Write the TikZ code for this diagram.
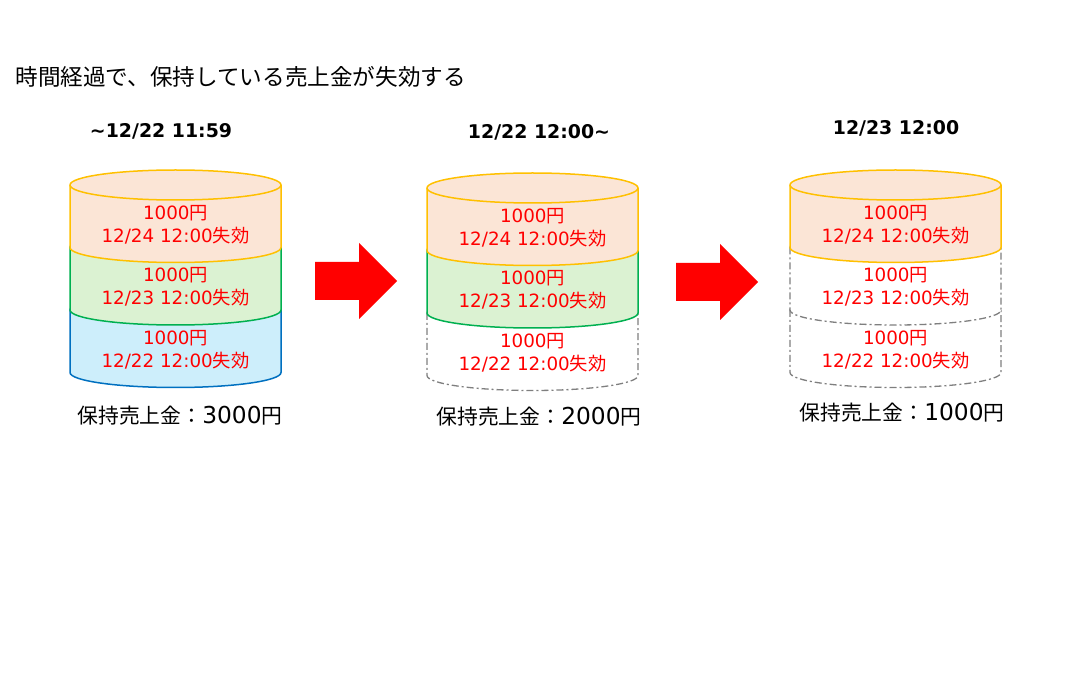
\documentclass[tikz,border=0pt]{standalone}
\usepackage{fontspec}
\setmainfont{DejaVu Sans}
\newfontfamily\jp{Noto Sans CJK JP}
\definecolor{orfill}{HTML}{FBE5D6}
\definecolor{ordraw}{HTML}{FFC000}
\definecolor{grfill}{HTML}{DBF2D2}
\definecolor{grdraw}{HTML}{00B050}
\definecolor{blfill}{HTML}{CDEEFB}
\definecolor{bldraw}{HTML}{0070C0}
\definecolor{lost}{HTML}{7F7F7F}
\def\can{-- ++(0,62.5) arc[start angle=180,end angle=0,x radius=105.5,y radius=15] -- ++(0,-62.5) arc[start angle=0,end angle=-180,x radius=105.5,y radius=15] -- cycle}
\def\lid{arc[start angle=180,end angle=0,x radius=105.5,y radius=15]}
\def\redarrow{-- ++(44,0) -- ++(0,-19) -- ++(38,38) -- ++(-38,38) -- ++(0,-19) -- ++(-44,0) -- cycle}
\def\yen{{\jp 円}}
\def\lapse{{\jp 失効}}
\def\held#1{{\jp\fontsize{20.8}{26}\selectfont 保持売上金：}#1{\jp\fontsize{20.8}{26}\selectfont 円}}
\tikzset{
  amount/.style={text=red, align=center, font=\fontsize{18.3}{23}\selectfont},
  when/.style={font=\bfseries\fontsize{18.9}{20}\selectfont},
  total/.style={font=\fontsize{23.3}{26}\selectfont},
  gone/.style={draw=lost, fill=white, line width=1.3, dash pattern=on 7 off 3 on 2 off 3},
}
\begin{document}
\begin{tikzpicture}[x=1pt,y=-1pt]
  \useasboundingbox (0,0) rectangle (1074,684);
  \node[anchor=west, font=\fontsize{22.6}{28}\selectfont\jp] (title) at (12,77) {時間経過で、保持している売上金が失効する};

  % before
  \filldraw[fill=blfill,draw=bldraw,line width=1.5] (70,310) \can;
  \filldraw[fill=grfill,draw=grdraw,line width=1.5] (70,247.5) \can;
  \filldraw[fill=orfill,draw=ordraw,line width=1.5] (70,185) \can;
  \draw[ordraw,line width=1.5] (70,185) \lid;
  \node[when] (d1) at (161,131) {\textasciitilde12/22 11:59};
  \node[amount] (a1) at (175.5,224.5) {1000\yen\\12/24 12:00\lapse};
  \node[amount] (b1) at (175.5,287) {1000\yen\\12/23 12:00\lapse};
  \node[amount] (c1) at (175.5,349.5) {1000\yen\\12/22 12:00\lapse};
  \node[total] (t1) at (180,416) {\held{3000}};

  \fill[red] (315,262) \redarrow;

  % after 12/22 12:00
  \draw[gone] (427,313) \can;
  \filldraw[fill=grfill,draw=grdraw,line width=1.5] (427,250.5) \can;
  \filldraw[fill=orfill,draw=ordraw,line width=1.5] (427,188) \can;
  \draw[ordraw,line width=1.5] (427,188) \lid;
  \node[when] (d2) at (539,132) {12/22 12:00\textasciitilde};
  \node[amount] (a2) at (532.5,227.5) {1000\yen\\12/24 12:00\lapse};
  \node[amount] (b2) at (532.5,290) {1000\yen\\12/23 12:00\lapse};
  \node[amount] (c2) at (532.5,352.5) {1000\yen\\12/22 12:00\lapse};
  \node[total] (t2) at (539,417) {\held{2000}};

  \fill[red] (676,263) \redarrow;

  % after 12/23 12:00
  \draw[gone] (790,310) \can;
  \draw[gone] (790,247.5) \can;
  \filldraw[fill=orfill,draw=ordraw,line width=1.5] (790,185) \can;
  \draw[ordraw,line width=1.5] (790,185) \lid;
  \node[when] (d3) at (896,128) {12/23 12:00};
  \node[amount] (a3) at (895.5,224.5) {1000\yen\\12/24 12:00\lapse};
  \node[amount] (b3) at (895.5,287) {1000\yen\\12/23 12:00\lapse};
  \node[amount] (c3) at (895.5,349.5) {1000\yen\\12/22 12:00\lapse};
  \node[total] (t3) at (902,413) {\held{1000}};
\end{tikzpicture}
\end{document}
